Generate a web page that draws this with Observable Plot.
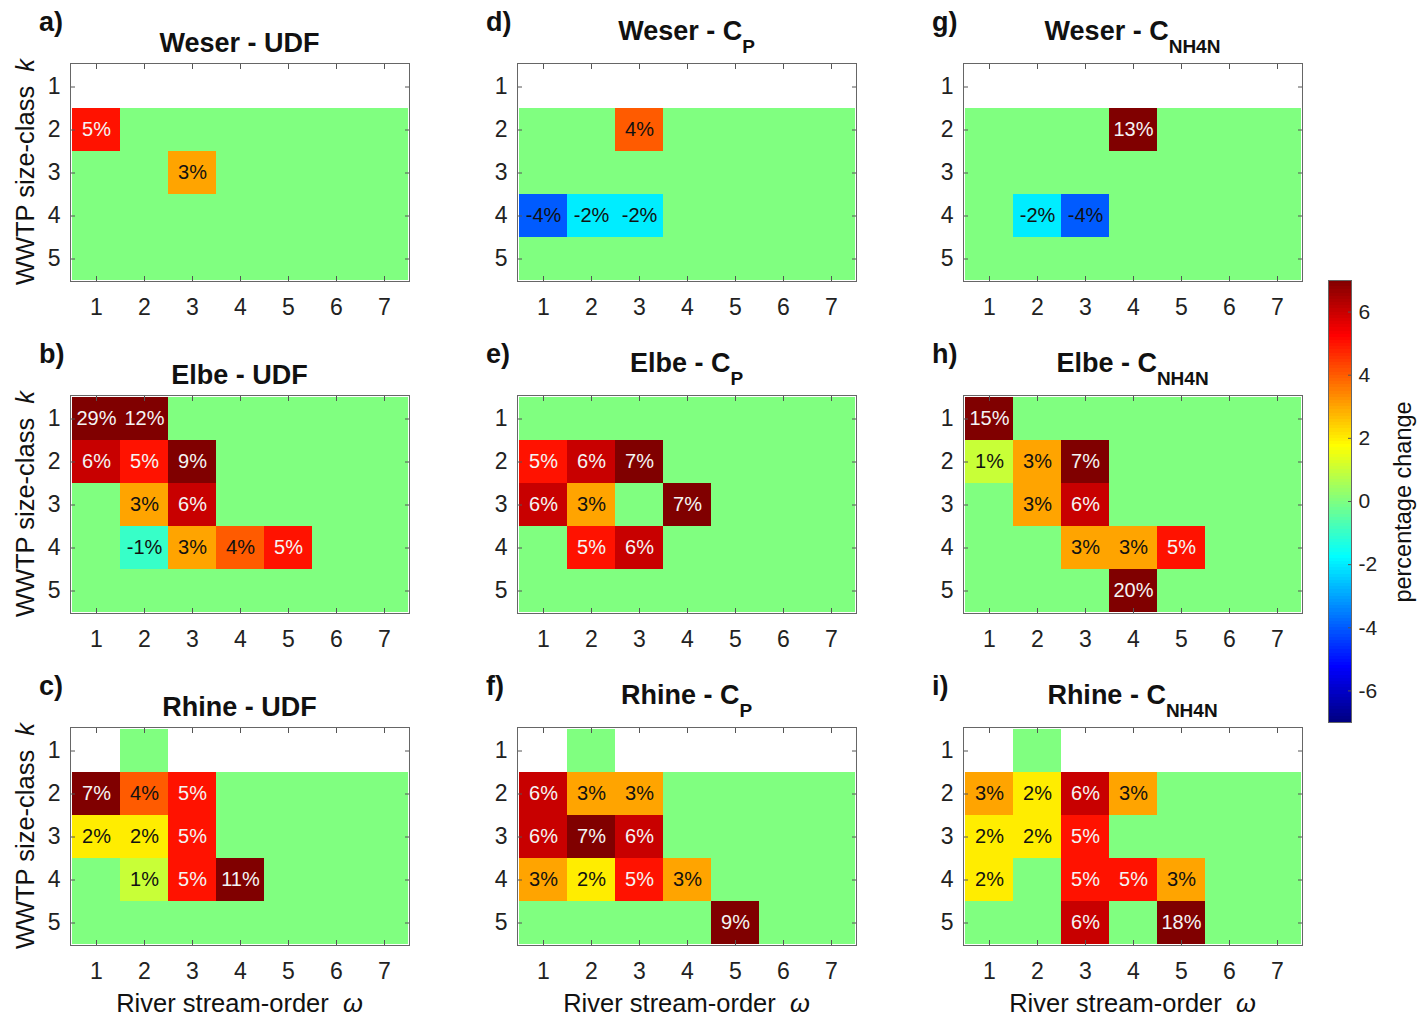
<!DOCTYPE html>
<html><head><meta charset="utf-8">
<script src="https://cdn.jsdelivr.net/npm/d3@7"></script>
<script src="https://cdn.jsdelivr.net/npm/@observablehq/plot@0.6"></script>
<style>
body{margin:0;background:#fff;}
#fig{position:relative;width:1418px;height:1019px;font-family:"Liberation Sans",Arial,sans-serif;color:#111;overflow:hidden;background:#fff;}
.abs{position:absolute;white-space:nowrap;line-height:1;}
.title{font-weight:bold;font-size:27px;transform:translateX(-50%);}
.title sub{font-size:19px;vertical-align:-13px;line-height:1;}
.letter{font-weight:bold;font-size:27px;}
.ylab{font-size:25.5px;transform:translate(-50%,-50%) rotate(-90deg);}
.xlab{font-size:25.5px;transform:translateX(-50%);}
.cblab{font-size:23.5px;transform:translate(-50%,-50%) rotate(-90deg);}
svg{position:absolute;}
</style></head><body><div id="fig"></div>
<script>
// axes categories
const streamOrder = [1, 2, 3, 4, 5, 6, 7];   // river stream-order ω
const sizeClass = [1, 2, 3, 4, 5];           // WWTP size-class k
const colorTicks = [-6, -4, -2, 0, 2, 4, 6];
const colorDomain = [-7, 7];
const N = null; // no data (white)

// percentage change matrices, rows = size-class 1..5, columns = stream-order 1..7
const weserUDF = [
  [N, N, N, N, N, N, N],
  [5, 0, 0, 0, 0, 0, 0],
  [0, 0, 3, 0, 0, 0, 0],
  [0, 0, 0, 0, 0, 0, 0],
  [0, 0, 0, 0, 0, 0, 0]
];
const elbeUDF = [
  [29, 12, 0, 0, 0, 0, 0],
  [6, 5, 9, 0, 0, 0, 0],
  [0, 3, 6, 0, 0, 0, 0],
  [0, -1, 3, 4, 5, 0, 0],
  [0, 0, 0, 0, 0, 0, 0]
];
const rhineUDF = [
  [N, 0, N, N, N, N, N],
  [7, 4, 5, 0, 0, 0, 0],
  [2, 2, 5, 0, 0, 0, 0],
  [0, 1, 5, 11, 0, 0, 0],
  [0, 0, 0, 0, 0, 0, 0]
];
const weserCP = [
  [N, N, N, N, N, N, N],
  [0, 0, 4, 0, 0, 0, 0],
  [0, 0, 0, 0, 0, 0, 0],
  [-4, -2, -2, 0, 0, 0, 0],
  [0, 0, 0, 0, 0, 0, 0]
];
const elbeCP = [
  [0, 0, 0, 0, 0, 0, 0],
  [5, 6, 7, 0, 0, 0, 0],
  [6, 3, 0, 7, 0, 0, 0],
  [0, 5, 6, 0, 0, 0, 0],
  [0, 0, 0, 0, 0, 0, 0]
];
const rhineCP = [
  [N, 0, N, N, N, N, N],
  [6, 3, 3, 0, 0, 0, 0],
  [6, 7, 6, 0, 0, 0, 0],
  [3, 2, 5, 3, 0, 0, 0],
  [0, 0, 0, 0, 9, 0, 0]
];
const weserCNH4N = [
  [N, N, N, N, N, N, N],
  [0, 0, 0, 13, 0, 0, 0],
  [0, 0, 0, 0, 0, 0, 0],
  [0, -2, -4, 0, 0, 0, 0],
  [0, 0, 0, 0, 0, 0, 0]
];
const elbeCNH4N = [
  [15, 0, 0, 0, 0, 0, 0],
  [1, 3, 7, 0, 0, 0, 0],
  [0, 3, 6, 0, 0, 0, 0],
  [0, 0, 3, 3, 5, 0, 0],
  [0, 0, 0, 20, 0, 0, 0]
];
const rhineCNH4N = [
  [N, 0, N, N, N, N, N],
  [3, 2, 6, 3, 0, 0, 0],
  [2, 2, 5, 0, 0, 0, 0],
  [2, 0, 5, 5, 3, 0, 0],
  [0, 0, 6, 0, 18, 0, 0]
];

const panels = [
  {letter: "a)", river: "Weser", sub: null, m: weserUDF, col: 0, row: 0},
  {letter: "b)", river: "Elbe", sub: null, m: elbeUDF, col: 0, row: 1},
  {letter: "c)", river: "Rhine", sub: null, m: rhineUDF, col: 0, row: 2},
  {letter: "d)", river: "Weser", sub: "P", m: weserCP, col: 1, row: 0},
  {letter: "e)", river: "Elbe", sub: "P", m: elbeCP, col: 1, row: 1},
  {letter: "f)", river: "Rhine", sub: "P", m: rhineCP, col: 1, row: 2},
  {letter: "g)", river: "Weser", sub: "NH4N", m: weserCNH4N, col: 2, row: 0},
  {letter: "h)", river: "Elbe", sub: "NH4N", m: elbeCNH4N, col: 2, row: 1},
  {letter: "i)", river: "Rhine", sub: "NH4N", m: rhineCNH4N, col: 2, row: 2}
];

// MATLAB jet colormap
function jet(t) {
  const c = v => Math.max(0, Math.min(1, v));
  const r = c(Math.min(4 * t - 1.5, -4 * t + 4.5));
  const g = c(Math.min(4 * t - 0.5, -4 * t + 3.5));
  const b = c(Math.min(4 * t + 0.5, -4 * t + 2.5));
  return `rgb(${Math.round(r * 255)},${Math.round(g * 255)},${Math.round(b * 255)})`;
}
const colorScale = {type: "linear", domain: colorDomain, interpolate: jet, clamp: true};

const fig = document.getElementById("fig");
const frameLefts = [70, 517, 963];
const frameTops = [63, 395, 727];
const FW = 339, FH = 218;
const ML = 45, MR = 10, MT = 8, MB = 40;
const asc = 0.8465;

function addDiv(cls, html, left, top) {
  const d = document.createElement("div");
  d.className = "abs " + cls;
  d.innerHTML = html;
  d.style.left = left + "px";
  d.style.top = top + "px";
  fig.appendChild(d);
  return d;
}

const axisStroke = "#555";
for (const p of panels) {
  const fl = frameLefts[p.col], ft = frameTops[p.row];
  const data = [];
  p.m.forEach((rowVals, i) => rowVals.forEach((v, j) => {
    if (v !== null) data.push({k: sizeClass[i], w: streamOrder[j], v});
  }));
  const labeled = data.filter(d => d.v !== 0);
  const plot = Plot.plot({
    width: ML + FW + MR,
    height: MT + FH + MB,
    marginLeft: ML, marginRight: MR, marginTop: MT, marginBottom: MB,
    style: {fontFamily: "'Liberation Sans', Arial, sans-serif", fontSize: "23px", color: "#222", background: "transparent", overflow: "visible"},
    x: {type: "band", domain: streamOrder, padding: 0, label: null},
    y: {type: "band", domain: sizeClass, padding: 0, label: null},
    color: colorScale,
    marks: [
      Plot.cell(data, {x: "w", y: "k", fill: "v", shapeRendering: "crispEdges"}),
      Plot.text(labeled.filter(d => d.v < 5), {x: "w", y: "k", text: d => d.v + "%", fill: "#111", fontSize: 20}),
      Plot.text(labeled.filter(d => d.v >= 5), {x: "w", y: "k", text: d => d.v + "%", fill: "#f4f4f4", fontSize: 20}),
      Plot.axisX({anchor: "bottom", tickSize: -5, tickPadding: 22, stroke: axisStroke, label: null}),
      Plot.axisX({anchor: "top", tickSize: -5, tickFormat: () => "", stroke: axisStroke, label: null}),
      Plot.axisY({anchor: "left", tickSize: -5, tickPadding: 15, stroke: axisStroke, label: null}),
      Plot.axisY({anchor: "right", tickSize: -5, tickFormat: () => "", stroke: axisStroke, label: null}),
      Plot.frame({stroke: "#666"})
    ]
  });
  plot.style.left = (fl - ML) + "px";
  plot.style.top = (ft - MT) + "px";
  fig.appendChild(plot);

  // title
  const cx = fl + FW / 2;
  if (p.sub) {
    addDiv("title", `${p.river} - C<sub>${p.sub}</sub>`, cx, ft - 22 - asc * 27);
  } else {
    addDiv("title", `${p.river} - UDF`, cx, ft - 10 - asc * 27);
  }
  addDiv("letter", p.letter, fl - 31, ft - 31 - asc * 27);
  if (p.col === 0) addDiv("ylab", "WWTP size-class&nbsp;&nbsp;<i>k</i>", 26, ft + FH / 2);
  if (p.row === 2) addDiv("xlab", "River stream-order&nbsp;&nbsp;<i>ω</i>", cx, 1013 - asc * 25.5);
}

// colorbar
const nSteps = 140;
const step = (colorDomain[1] - colorDomain[0]) / nSteps;
const stops = d3.range(nSteps).map(i => {
  const lo = colorDomain[0] + i * step;
  return {lo, hi: lo + step, mid: lo + step / 2};
});
const cb = Plot.plot({
  width: 98, height: 470,
  marginLeft: 8, marginRight: 67, marginTop: 10, marginBottom: 18,
  style: {fontFamily: "'Liberation Sans', Arial, sans-serif", fontSize: "21px", color: "#222", background: "transparent", overflow: "visible"},
  y: {domain: colorDomain, label: null},
  color: colorScale,
  marks: [
    Plot.rect(stops, {y1: "lo", y2: "hi", fill: "mid", shapeRendering: "crispEdges"}),
    Plot.axisY({anchor: "right", ticks: colorTicks, tickFormat: d => String(d), tickSize: -4, tickPadding: 11, stroke: axisStroke, label: null}),
    Plot.frame({stroke: "#666"})
  ]
});
cb.style.left = "1320px";
cb.style.top = "270px";
fig.appendChild(cb);
addDiv("cblab", "percentage change", 1404, 502);
</script>
</body></html>
